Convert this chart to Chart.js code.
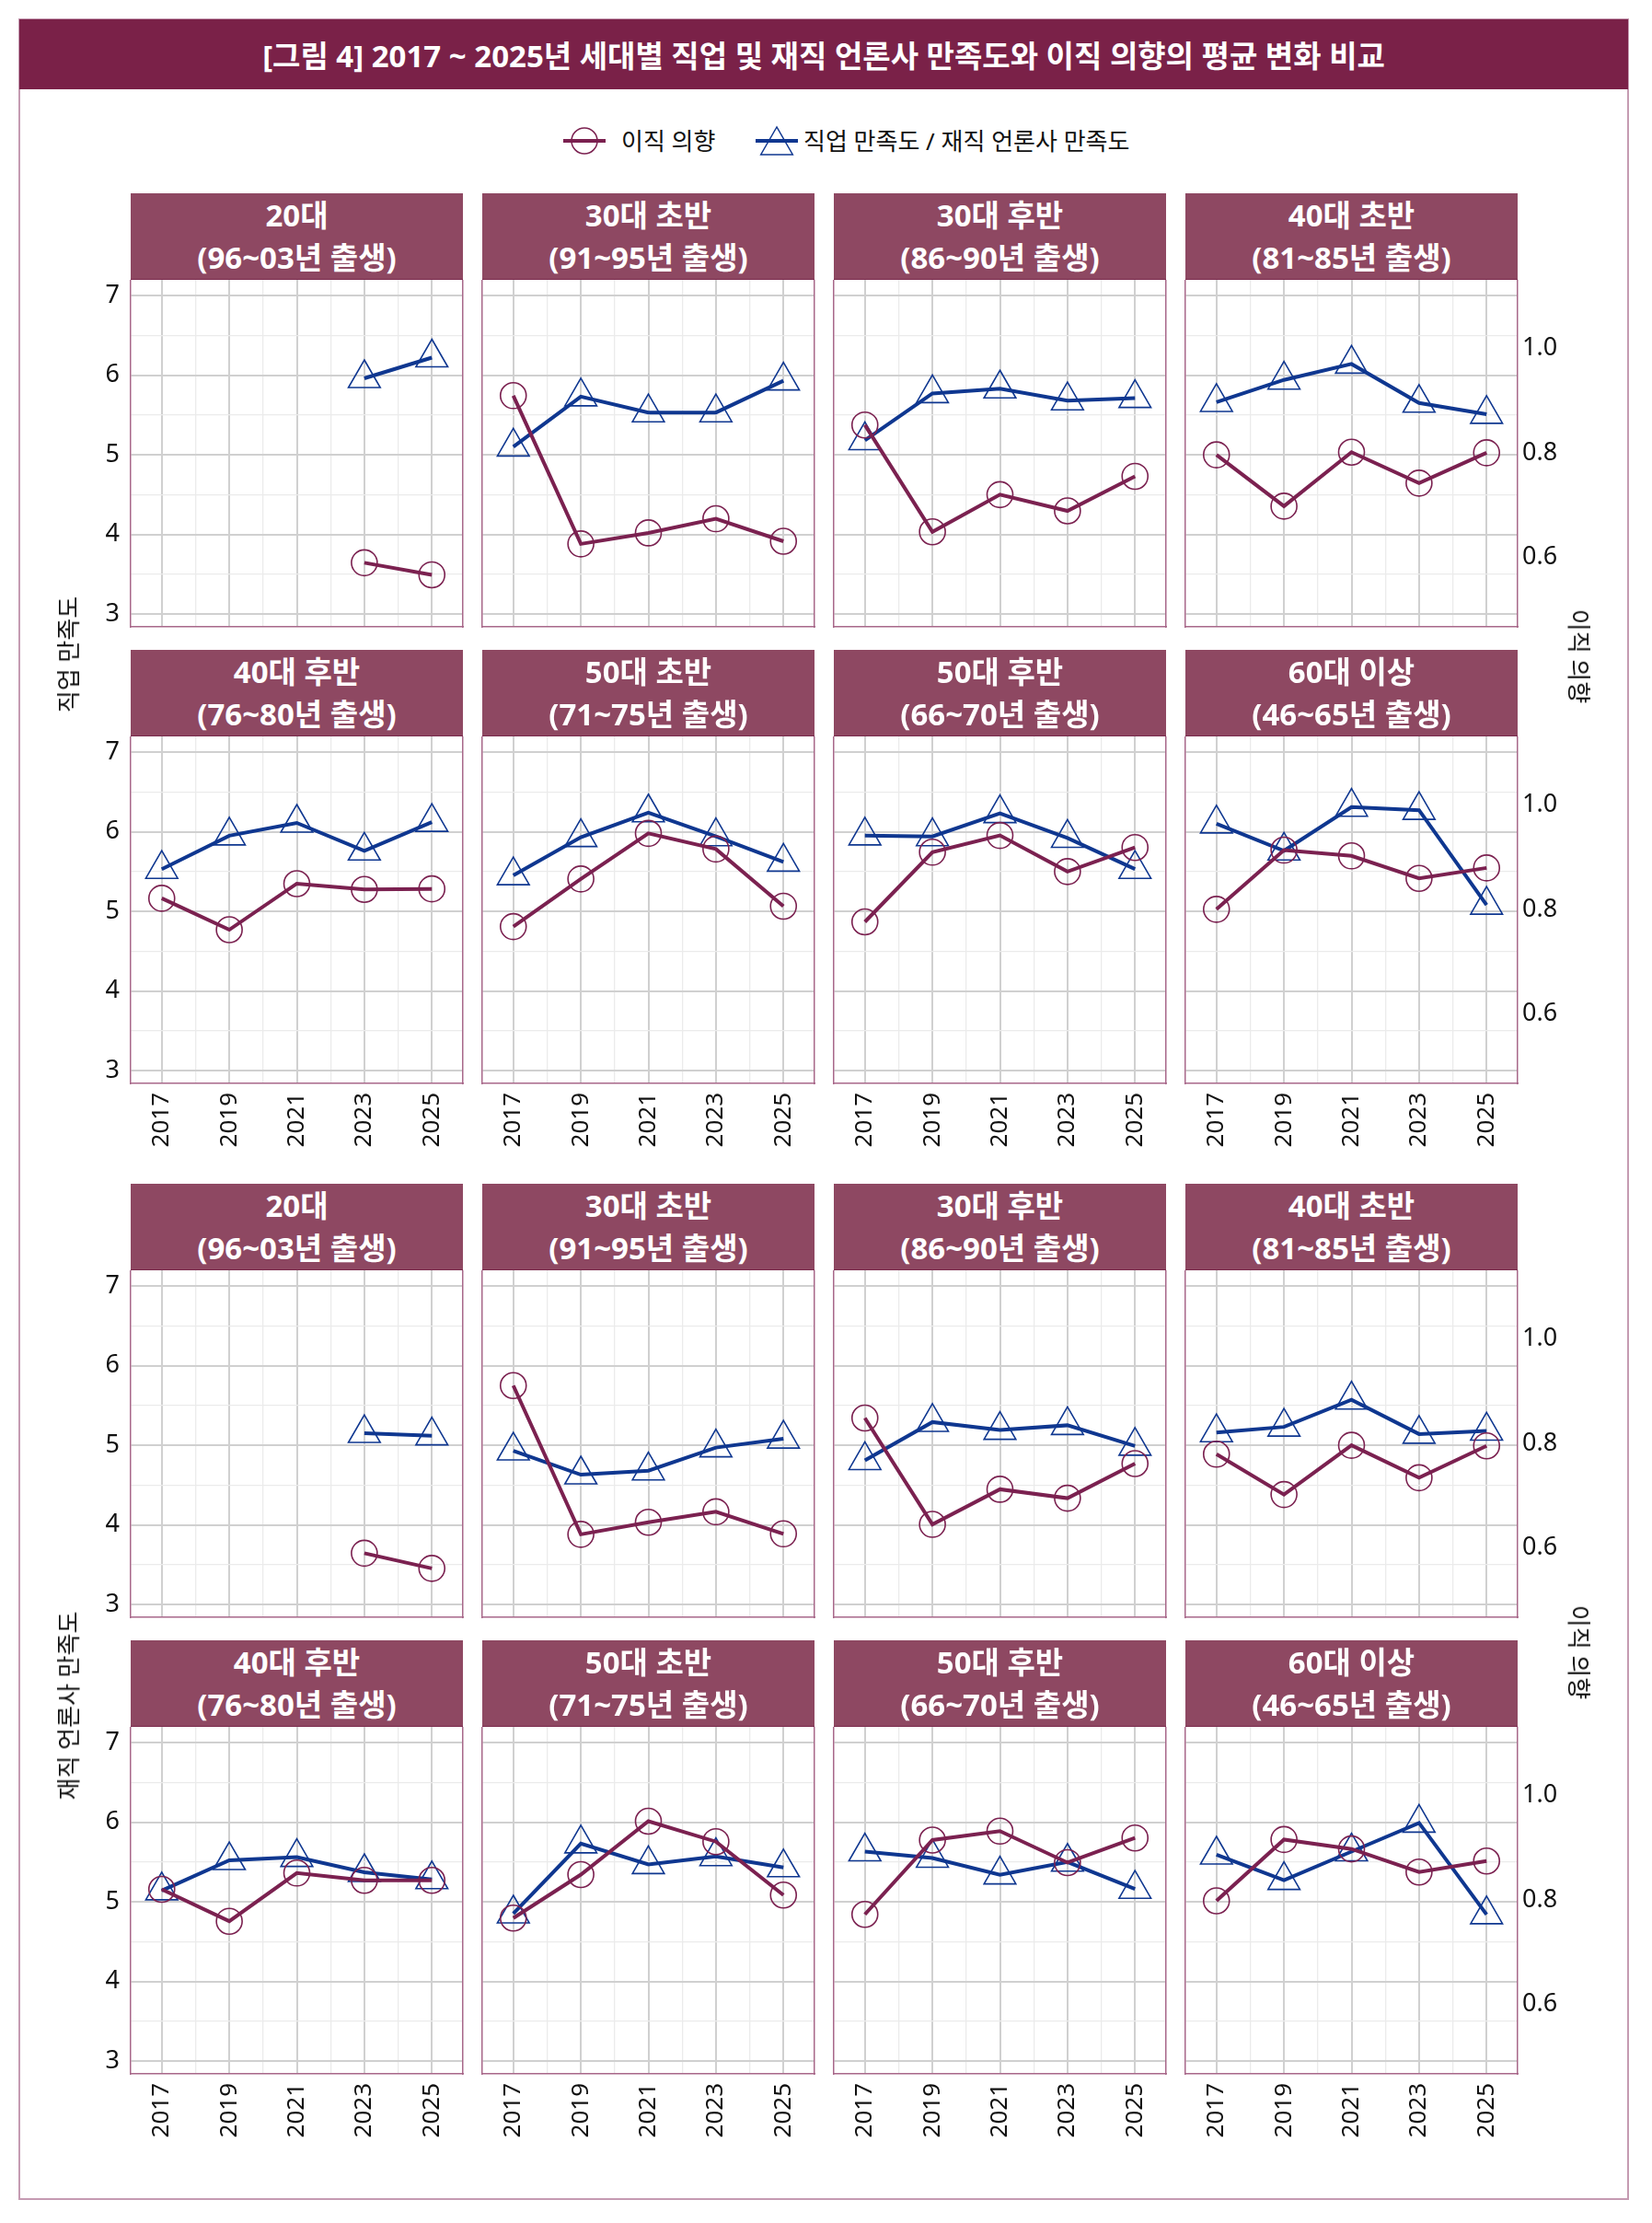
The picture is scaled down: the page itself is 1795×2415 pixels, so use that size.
<!DOCTYPE html>
<html>
<head>
<meta charset="utf-8">
<script src="https://cdn.jsdelivr.net/npm/chart.js@4.4.1/dist/chart.umd.min.js"></script>
<style>
  html, body { margin:0; padding:0; background:#fff; }
  body { width:1795px; height:2415px; position:relative; overflow:hidden;
         font-family:'Noto Sans','Noto Sans CJK KR',sans-serif; }
  .abs { position:absolute; }
  #frame { left:20px; top:20px; width:1746px; height:2366px; border:2px solid #c59bb2; }
  #titlebar { left:21px; top:21px; width:1748px; height:76px; background:#7a2148; color:#fff;
              font-size:33px; font-weight:700; display:flex; align-items:center; justify-content:center; z-index:3; }
  .hdr { background:#8e4862; color:#fff; font-size:33px; font-weight:700; text-align:center;
         line-height:46px; box-sizing:border-box; padding-top:1px; border-bottom:1px solid #7a2a4c; z-index:5; }
  canvas.pnl { position:absolute; z-index:1; }
  .ttl { font-size:26px; color:#111; white-space:nowrap; z-index:6; }
  .leg { font-size:26px; color:#111; line-height:40px; white-space:nowrap; z-index:6; }
</style>
</head>
<body>
<div id="frame" class="abs"></div>
<div id="titlebar" class="abs">[그림 4] 2017 ~ 2025년 세대별 직업 및 재직 언론사 만족도와 이직 의향의 평균 변화 비교</div>
<svg class="abs" style="left:610px;top:133px;z-index:6" width="50" height="40">
  <line x1="2" y1="20" x2="48" y2="20" stroke="#7b2150" stroke-width="4"/>
  <circle cx="25" cy="20" r="14" fill="none" stroke="#7b2150" stroke-width="1.5"/>
</svg>
<div class="abs leg" style="left:675px;top:133px;">이직 의향</div>
<svg class="abs" style="left:819px;top:133px;z-index:6" width="50" height="40">
  <line x1="2" y1="20" x2="48" y2="20" stroke="#0f3790" stroke-width="4"/>
  <polygon points="25,5 7.7,35 42.3,35" fill="none" stroke="#0f3790" stroke-width="1.5"/>
</svg>
<div class="abs leg" style="left:873px;top:133px;">직업 만족도 / 재직 언론사 만족도</div>
<script>
// ---------------- DATA ----------------
const years = [2017, 2019, 2021, 2023, 2025];
const minorYears = [2018, 2020, 2022, 2024];
const leftTicks = [3, 4, 5, 6, 7];
const leftMinorTicks = [3.5, 4.5, 5.5, 6.5];
const rightTicks = [0.6, 0.8, 1.0];

const genNames = ['20대', '30대 초반', '30대 후반', '40대 초반', '40대 후반', '50대 초반', '50대 후반', '60대 이상'];
const genBirth = ['(96~03년 출생)', '(91~95년 출생)', '(86~90년 출생)', '(81~85년 출생)',
                  '(76~80년 출생)', '(71~75년 출생)', '(66~70년 출생)', '(46~65년 출생)'];

// 직업 만족도 (left axis)
const jobSatisfaction = [
  [null, null, null, 5.96, 6.22],
  [5.10, 5.73, 5.53, 5.53, 5.93],
  [5.18, 5.77, 5.83, 5.68, 5.71],
  [5.66, 5.94, 6.14, 5.65, 5.51],
  [5.53, 5.95, 6.11, 5.76, 6.12],
  [5.45, 5.93, 6.24, 5.94, 5.62],
  [5.95, 5.94, 6.23, 5.92, 5.53],
  [6.10, 5.76, 6.31, 6.27, 5.08]
];
// 이직 의향 (right axis), panel set 1
const turnoverJob = [
  [null, null, null, 0.590, 0.567],
  [0.909, 0.626, 0.647, 0.674, 0.631],
  [0.853, 0.649, 0.720, 0.689, 0.755],
  [0.796, 0.698, 0.801, 0.742, 0.800],
  [0.821, 0.761, 0.849, 0.838, 0.839],
  [0.767, 0.858, 0.945, 0.915, 0.806],
  [0.776, 0.909, 0.941, 0.872, 0.918],
  [0.800, 0.913, 0.902, 0.859, 0.879]
];
// 재직 언론사 만족도 (left axis)
const orgSatisfaction = [
  [null, null, null, 5.15, 5.12],
  [4.93, 4.63, 4.68, 4.97, 5.08],
  [4.81, 5.29, 5.19, 5.25, 4.99],
  [5.16, 5.23, 5.57, 5.14, 5.18],
  [5.14, 5.52, 5.56, 5.37, 5.28],
  [4.85, 5.73, 5.47, 5.57, 5.43],
  [5.63, 5.55, 5.34, 5.50, 5.16],
  [5.59, 5.27, 5.63, 5.99, 4.84]
];
// 이직 의향 (right axis), panel set 2
const turnoverOrg = [
  [null, null, null, 0.590, 0.561],
  [0.910, 0.626, 0.649, 0.669, 0.627],
  [0.848, 0.645, 0.712, 0.695, 0.761],
  [0.779, 0.702, 0.796, 0.734, 0.795],
  [0.820, 0.759, 0.851, 0.837, 0.837],
  [0.765, 0.848, 0.950, 0.911, 0.809],
  [0.772, 0.914, 0.931, 0.871, 0.918],
  [0.798, 0.915, 0.897, 0.853, 0.874]
];

const legendTurnover = '이직 의향';
const legendSatisfaction = '직업 만족도 / 재직 언론사 만족도';
const leftTitles = ['직업 만족도', '재직 언론사 만족도'];
const rightTitle = '이직 의향';

// ---------------- STYLE / LAYOUT ----------------
const MAROON = '#7b2150', NAVY = '#0f3790', PANEL_BORDER = '#a8688a';
const GRID_MAJOR = '#d0d0d0', GRID_MINOR = '#ebebeb';
const FONT = "'Noto Sans','Noto Sans CJK KR',sans-serif";
const W = 361, H = 377, HDR = 94;
const colLeft = [142, 524, 906, 1288];
const headerTop = [210, 706, 1286, 1782];
const PADL = 80, PADR = 80, PADB = 90;
const X_MIN = 2016.08, X_MAX = 2025.92;
const Y_MIN = 2.838, Y_MAX = 7.197;
const R_MIN = 0.4676, R_MAX = 1.1301;

Chart.defaults.font.family = FONT;

const allXTicks = years.concat(minorYears).sort((a, b) => a - b);
const allYTicks = leftTicks.concat(leftMinorTicks).sort((a, b) => a - b);
const majorX = new Set(years), majorY = new Set(leftTicks);

function zeroPad(s) { s.paddingTop = 0; s.paddingBottom = 0; s.paddingLeft = 0; s.paddingRight = 0; }

function addDiv(cls, style, html) {
  const d = document.createElement('div');
  d.className = 'abs ' + cls;
  Object.assign(d.style, style);
  d.innerHTML = html;
  document.body.appendChild(d);
  return d;
}

function makePanel(left, top, satVals, turnVals, showY, showR, showX) {
  const cv = document.createElement('canvas');
  cv.className = 'pnl';
  cv.width = W + PADL + PADR; cv.height = H + PADB;
  cv.style.left = (left - PADL) + 'px';
  cv.style.top = top + 'px';
  cv.style.width = cv.width + 'px'; cv.style.height = cv.height + 'px';
  document.body.appendChild(cv);

  const turnPts = years.map((y, i) => ({ x: y, y: turnVals[i] }));
  const satPts = years.map((y, i) => ({ x: y, y: satVals[i] }));

  new Chart(cv, {
    type: 'line',
    data: {
      datasets: [
        { label: legendTurnover, data: turnPts, yAxisID: 'y1', xAxisID: 'x',
          borderColor: MAROON, borderWidth: 4, tension: 0, fill: false, spanGaps: false,
          pointStyle: 'circle', pointRadius: 14, pointBorderWidth: 1.6,
          pointBorderColor: MAROON, pointBackgroundColor: 'rgba(0,0,0,0)', clip: false },
        { label: legendSatisfaction, data: satPts, yAxisID: 'y', xAxisID: 'x',
          borderColor: NAVY, borderWidth: 4, tension: 0, fill: false, spanGaps: false,
          pointStyle: 'triangle', pointRadius: 20, pointBorderWidth: 1.6,
          pointBorderColor: NAVY, pointBackgroundColor: 'rgba(0,0,0,0)', clip: false }
      ]
    },
    options: {
      responsive: false, animation: false, devicePixelRatio: 1,
      layout: { padding: 0, autoPadding: false },
      plugins: { legend: { display: false }, tooltip: { enabled: false }, title: { display: false } },
      events: [],
      scales: {
        x: {
          type: 'linear', position: 'bottom', min: X_MIN, max: X_MAX,
          afterBuildTicks: s => { s.ticks = allXTicks.map(v => ({ value: v })); },
          afterFit: s => { s.height = PADB; zeroPad(s); },
          ticks: { display: showX, autoSkip: false, minRotation: 90, maxRotation: 90, padding: 10,
                   color: '#111', font: { size: 26, family: FONT },
                   callback: v => majorX.has(v) ? String(v) : '' },
          grid: { drawTicks: false,
                  color: c => (c.tick && majorX.has(c.tick.value)) ? GRID_MAJOR : GRID_MINOR,
                  lineWidth: c => (c.tick && majorX.has(c.tick.value)) ? 2 : 1.3 },
          border: { display: true, color: PANEL_BORDER, width: 1.5 }
        },
        y: {
          type: 'linear', position: 'left', min: Y_MIN, max: Y_MAX,
          afterBuildTicks: s => { s.ticks = allYTicks.map(v => ({ value: v })); },
          afterFit: s => { s.width = PADL; zeroPad(s); },
          ticks: { display: showY, autoSkip: false, padding: 12, color: '#111',
                   font: { size: 27, family: FONT },
                   callback: v => majorY.has(v) ? String(v) : '' },
          grid: { drawTicks: false,
                  color: c => (c.tick && majorY.has(c.tick.value)) ? GRID_MAJOR : GRID_MINOR,
                  lineWidth: c => (c.tick && majorY.has(c.tick.value)) ? 2 : 1.3 },
          border: { display: true, color: PANEL_BORDER, width: 1.5 }
        },
        y1: {
          type: 'linear', position: 'right', min: R_MIN, max: R_MAX,
          afterBuildTicks: s => { s.ticks = rightTicks.map(v => ({ value: v })); },
          afterFit: s => { s.width = PADR; zeroPad(s); },
          ticks: { display: showR, autoSkip: false, padding: 5, color: '#111',
                   font: { size: 27, family: FONT },
                   callback: v => Number(v).toFixed(1) },
          grid: { display: false, drawTicks: false },
          border: { display: true, color: PANEL_BORDER, width: 1.5 }
        }
      }
    }
  });
}

const blocks = [
  { sat: jobSatisfaction, turn: turnoverJob },
  { sat: orgSatisfaction, turn: turnoverOrg }
];

blocks.forEach((blk, b) => {
  for (let rr = 0; rr < 2; rr++) {
    const r = b * 2 + rr;
    for (let c = 0; c < 4; c++) {
      const g = rr * 4 + c;
      makePanel(colLeft[c], headerTop[r] + HDR, blk.sat[g], blk.turn[g], c === 0, c === 3, rr === 1);
      addDiv('hdr', { left: colLeft[c] + 'px', top: headerTop[r] + 'px', width: W + 'px', height: HDR + 'px' },
             genNames[g] + '<br>' + genBirth[g]);
    }
  }
});

// axis titles
const leftTitleY = [711, 1853];
const rightTitleY = [713, 1795];
leftTitles.forEach((t, b) => {
  addDiv('ttl', { left: '73px', top: leftTitleY[b] + 'px', transform: 'translate(-50%,-50%) rotate(-90deg)' }, t);
  addDiv('ttl', { left: '1717px', top: rightTitleY[b] + 'px', transform: 'translate(-50%,-50%) rotate(90deg)' }, rightTitle);
});
</script>
</body>
</html>
